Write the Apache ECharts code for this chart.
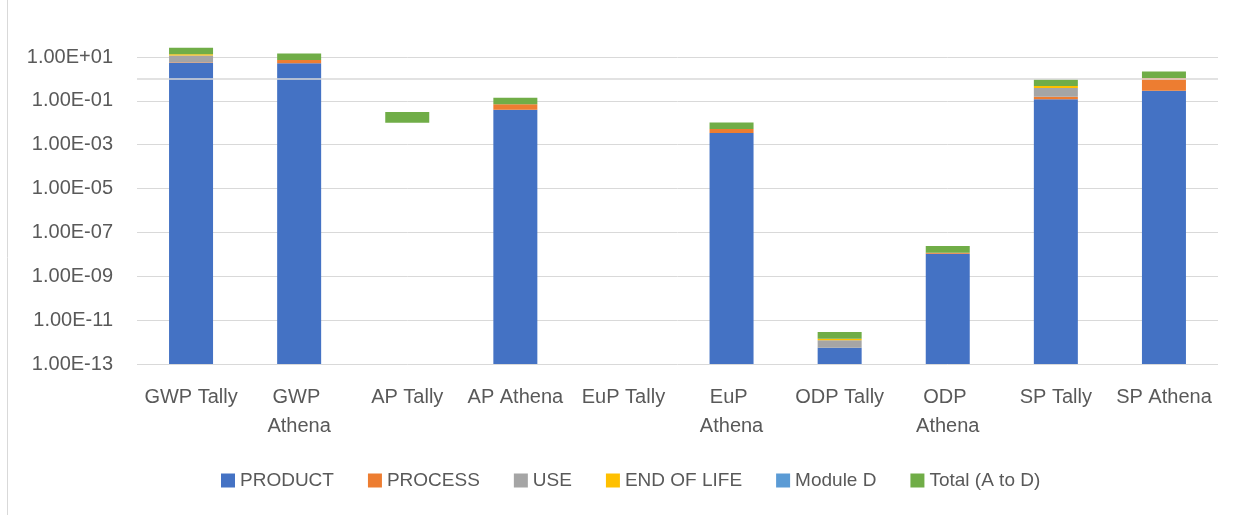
<!DOCTYPE html>
<html>
<head>
<meta charset="utf-8">
<script src="https://cdn.jsdelivr.net/npm/echarts@6/dist/echarts.min.js"></script>
<style>
  html, body { margin: 0; padding: 0; background: #fff; }
  #chart { width: 1245px; height: 515px; }
</style>
</head>
<body>
<div id="chart"></div>
<script>
// impact categories, per tool
const categories = ['GWP Tally', 'GWP Athena', 'AP Tally', 'AP Athena', 'EuP Tally',
  'EuP Athena', 'ODP Tally', 'ODP Athena', 'SP Tally', 'SP Athena']

// life-cycle stage values
const product = [5.5, 5.2, 0.01, 0.0395, 0, 0.0034, 5.5e-13, 1.07e-8, 0.118, 0.29]
const process = [0.3, 2.1, 0, 0.030, 0, 0.0018, 0, 1.2e-9, 0.037, 0.81]
const use = [6.0, 0, 0, 0, 0, 0, 6.6e-13, 0, 0.23, 0]
const endOfLife = [1.5, 0, 0, 0, 0, 0, 2.2e-13, 0, 0.09, 0]
const moduleD = [0, 0, 0, 0, 0, 0, 0, 0, 0, 0]
const total = [13.3, 7.3, 0.021, 0.0695, 0, 0.0052, 1.43e-12, 1.19e-8, 0.475, 1.1]

// the PRODUCT part of AP Tally is not drawn in the original
const hiddenProduct = ['AP Tally']

const yTicks = ['1.00E-13', '1.00E-11', '1.00E-09', '1.00E-07', '1.00E-05', '1.00E-03', '1.00E-01', '1.00E+01']

const stages = [
  { name: 'PRODUCT', values: product, color: '#4472c4' },
  { name: 'PROCESS', values: process, color: '#ed7d31' },
  { name: 'USE', values: use, color: '#a5a5a5' },
  { name: 'END OF LIFE', values: endOfLife, color: '#ffc000' },
  { name: 'Module D', values: moduleD, color: '#5b9bd5' },
  { name: 'Total (A to D)', values: total, color: '#70ad47' },
]

// log axis from 1E-13: stack in value space, draw each piece in log space
const LOG_MIN = -13
const cum = categories.map(() => 0)
const pieces = stages.map(s => s.values.map((v, i) => {
  const prev = cum[i] > 0 ? Math.log10(cum[i]) - LOG_MIN : 0
  cum[i] += v
  const next = cum[i] > 0 ? Math.log10(cum[i]) - LOG_MIN : prev
  return Math.max(next - Math.max(prev, 0), 0)
}))

const chart = echarts.init(document.getElementById('chart'))
const font = 'Liberation Sans, Arial, sans-serif'

chart.setOption({
  animation: false,
  textStyle: { fontFamily: font },
  graphic: [{
    type: 'line',
    shape: { x1: 7.5, y1: 0, x2: 7.5, y2: 515 },
    style: { stroke: '#d9d9d9', lineWidth: 1 },
  }],
  grid: { left: 137, right: 27, top: 57, bottom: 151 },
  legend: {
    top: 466,
    left: 216,
    icon: 'rect',
    itemWidth: 14,
    itemHeight: 14,
    itemGap: 34,
    textStyle: { color: '#595959', fontSize: 19, fontFamily: font },
    data: stages.map(s => s.name),
  },
  xAxis: {
    type: 'category',
    data: categories,
    axisLine: { show: false },
    axisTick: { show: false },
    axisLabel: {
      interval: 0,
      color: '#595959',
      fontSize: 20,
      fontFamily: font,
      margin: 19,
      lineHeight: 29,
      width: 100,
      overflow: 'break',
    },
  },
  yAxis: {
    type: 'value',
    min: 0,
    max: 14,
    interval: 2,
    axisLine: { show: false },
    axisTick: { show: false },
    splitLine: { lineStyle: { color: '#d9d9d9', width: 1 } },
    axisLabel: {
      color: '#595959',
      fontSize: 20,
      fontFamily: font,
      margin: 24,
      formatter: v => yTicks[v / 2] || '',
    },
  },
  series: stages.map((s, k) => ({
    name: s.name,
    type: 'bar',
    stack: 'lca',
    barWidth: 44,
    clip: false,
    itemStyle: { color: s.color },
    data: pieces[k].map((h, i) => (
      k === 0 && hiddenProduct.includes(categories[i])
        ? { value: h, itemStyle: { opacity: 0 } }
        : h
    )),
    markLine: k === stages.length - 1 ? {
      silent: true,
      symbol: 'none',
      label: { show: false },
      lineStyle: { color: '#d9d9d9', type: 'solid', width: 1.5 },
      data: [{ yAxis: -LOG_MIN }],
    } : undefined,
  })),
})
</script>
</body>
</html>
